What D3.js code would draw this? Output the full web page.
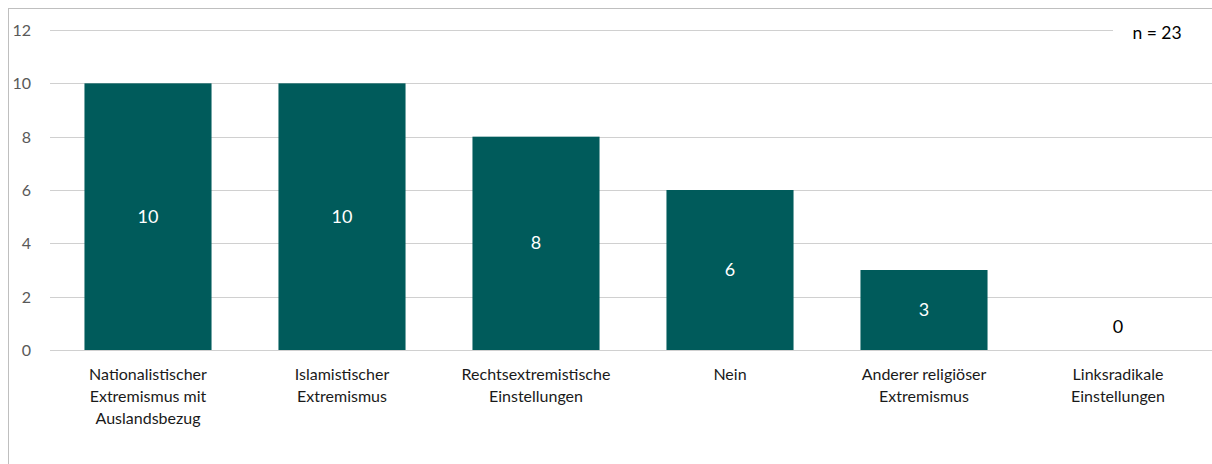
<!DOCTYPE html>
<html>
<head>
<meta charset="utf-8">
<script src="https://cdn.jsdelivr.net/npm/d3@7"></script>
<style>
  html, body { margin: 0; padding: 0; background: #fff; }
  svg text { font-family: Lato, "Open Sans", sans-serif; }
</style>
</head>
<body>
<svg id="chart" width="1212" height="464"></svg>
<script>
const categories = [
  ["Nationalistischer", "Extremismus mit", "Auslandsbezug"],
  ["Islamistischer", "Extremismus"],
  ["Rechtsextremistische", "Einstellungen"],
  ["Nein"],
  ["Anderer religiöser", "Extremismus"],
  ["Linksradikale", "Einstellungen"]
];
const values = [10, 10, 8, 6, 3, 0];
const yTicks = [0, 2, 4, 6, 8, 10, 12];
const note = "n = 23";

const svg = d3.select("#chart");

// outer frame, runs off the right and bottom edge
svg.append("rect")
  .attr("x", 8.5).attr("y", 8.5)
  .attr("width", 1240).attr("height", 500)
  .attr("fill", "none")
  .attr("stroke", "#bfbfbf").attr("stroke-width", 1);

const plotLeft = 51, plotRight = 1215, plotTop = 30, plotBottom = 350;

const x = d3.scaleBand()
  .domain(d3.range(categories.length))
  .range([plotLeft, plotRight])
  .paddingInner(0.345)
  .paddingOuter(0.1725);

const y = d3.scaleLinear().domain([0, 12]).range([plotBottom, plotTop]);

// gridlines
svg.append("g")
  .selectAll("line")
  .data(yTicks)
  .join("line")
  .attr("x1", 50)
  .attr("x2", d => d === 12 ? 1113 : 1212)
  .attr("y1", d => Math.round(y(d)) + 0.5)
  .attr("y2", d => Math.round(y(d)) + 0.5)
  .attr("stroke", "#d0d0d0")
  .attr("stroke-width", 1);

// y labels
svg.append("g")
  .selectAll("text")
  .data(yTicks)
  .join("text")
  .attr("x", 31)
  .attr("y", d => y(d) + 6)
  .attr("text-anchor", "end")
  .attr("fill", "#595959")
  .attr("font-size", 16)
  .text(d => d);

// bars
svg.append("g")
  .selectAll("rect")
  .data(values)
  .join("rect")
  .attr("x", (d, i) => x(i))
  .attr("width", x.bandwidth())
  .attr("y", d => y(d))
  .attr("height", d => plotBottom - y(d))
  .attr("fill", "#005b5b");

// value labels
svg.append("g")
  .selectAll("text")
  .data(values)
  .join("text")
  .attr("x", (d, i) => x(i) + x.bandwidth() / 2)
  .attr("y", d => d > 0 ? (y(d) + plotBottom) / 2 + 6 : plotBottom - 17)
  .attr("text-anchor", "middle")
  .attr("fill", d => d > 0 ? "#fff" : "#000")
  .attr("font-size", 18)
  .text(d => d);

// category labels
const cat = svg.append("g")
  .selectAll("text")
  .data(categories)
  .join("text")
  .attr("x", (d, i) => x(i) + x.bandwidth() / 2)
  .attr("y", 380)
  .attr("text-anchor", "middle")
  .attr("fill", "#1a1a1a")
  .attr("font-size", 16);

cat.selectAll("tspan")
  .data(d => d)
  .join("tspan")
  .attr("x", function() { return d3.select(this.parentNode).attr("x"); })
  .attr("dy", (d, i) => i === 0 ? 0 : 22)
  .text(d => d);

svg.append("text")
  .attr("x", 1157)
  .attr("y", 39)
  .attr("text-anchor", "middle")
  .attr("fill", "#000")
  .attr("font-size", 17.5)
  .text(note);
</script>
</body>
</html>
